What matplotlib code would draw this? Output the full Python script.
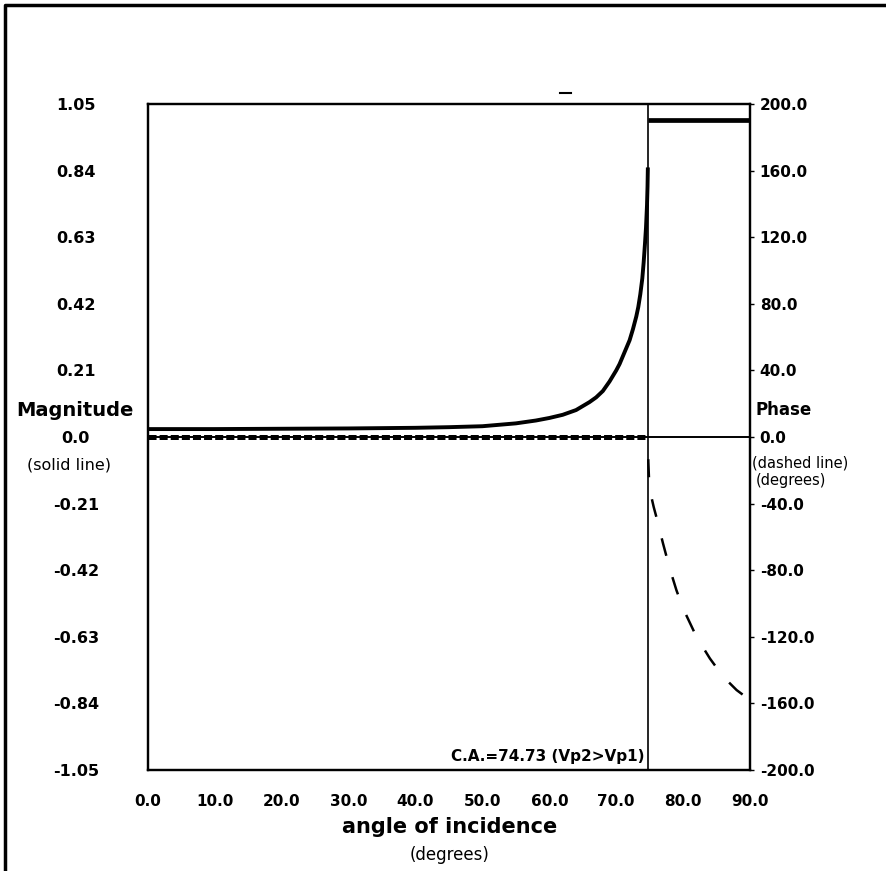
import matplotlib.pyplot as plt
from matplotlib.lines import Line2D

plt.rcParams['font.family'] = ['DejaVu Sans']
plt.rcParams['lines.scale_dashes'] = False

# magnitude (solid line) before critical angle
angle_pre = [0, 10, 20, 30, 40, 45, 50, 55, 58, 60, 62, 64, 66, 67, 68, 69, 70,
             70.5, 71, 71.5, 72, 72.5, 73, 73.3, 73.6, 73.9, 74.1, 74.3, 74.45,
             74.6, 74.68, 74.73]
mag_pre = [0.025, 0.025, 0.026, 0.027, 0.029, 0.031, 0.034, 0.043, 0.052, 0.06,
           0.07, 0.085, 0.11, 0.125, 0.145, 0.175, 0.21, 0.23, 0.255, 0.28,
           0.305, 0.34, 0.38, 0.41, 0.45, 0.50, 0.55, 0.61, 0.66, 0.73, 0.79, 0.85]
# magnitude after critical angle
angle_post_mag = [74.73, 90]
mag_post = [1.0, 1.0]

# phase (dashed line)
angle_phase_pre = [0, 74.73]
phase_pre = [0, 0]
angle_phase_post = [74.73, 74.8, 74.9, 75.2, 75.6, 76, 77, 78, 79, 80, 82, 84,
                    86, 88, 90]
phase_post = [0, -15, -25, -35, -42, -48, -64, -79, -92, -103, -120, -133,
              -144, -152, -158]

crit_angle = 74.73

mag_ticks = [1.05, 0.84, 0.63, 0.42, 0.21, 0.0, -0.21, -0.42, -0.63, -0.84, -1.05]
phase_ticks = [200, 160, 120, 80, 40, 0, -40, -80, -120, -160, -200]
x_ticks = [0, 10, 20, 30, 40, 50, 60, 70, 80, 90]

W, H = 886, 871
fig = plt.figure(figsize=(W / 100, H / 100), dpi=100)
ax = fig.add_axes([148 / W, 1 - 770 / H, 602 / W, 666 / H])
ax2 = ax.twinx()

ax.set_xlim(0, 90)
ax.set_ylim(-1.05, 1.05)
ax2.set_ylim(-200, 200)

# zero line and critical angle line
ax.axhline(0, color='black', lw=1.4)
ax.axvline(crit_angle, color='black', lw=1.2)

ax.plot(angle_pre, mag_pre, color='black', lw=2.8, solid_capstyle='butt',
        solid_joinstyle='round')
ax.plot(angle_post_mag, mag_post, color='black', lw=3.4, solid_capstyle='butt')

ax2.plot(angle_phase_pre, phase_pre, color='black', lw=3.6,
         linestyle=(0, (5.8, 2.2)), dash_capstyle='butt')
ax2.plot(angle_phase_post, phase_post, color='black', lw=1.8,
         linestyle=(13, (13, 16)), dash_capstyle='butt')

for s in ax.spines.values():
    s.set_linewidth(1.6)
for s in ax2.spines.values():
    s.set_linewidth(1.6)

ax.set_yticks(mag_ticks)
ax.set_yticklabels([f'{v:.2f}' if v != 0 else '0.0' for v in mag_ticks],
                   fontsize=11.5, fontweight='bold', ha='center')
ax.tick_params(axis='y', length=0, pad=52)
ax.set_xticks(x_ticks)
ax.set_xticklabels([f'{v:.1f}' for v in x_ticks], fontsize=11, fontweight='bold')
ax.tick_params(axis='x', length=0, pad=17)

ax2.set_yticks(phase_ticks)
ax2.set_yticklabels([f'{v:.1f}' for v in phase_ticks], fontsize=11,
                    fontweight='bold')
ax2.tick_params(axis='y', length=3, width=1, pad=4)

def px(x, y):
    return x / W, 1 - y / H

fig.text(*px(75, 410), 'Magnitude', fontsize=14, fontweight='bold',
         ha='center', va='center')
fig.text(*px(69, 465), '(solid line)', fontsize=11.5, ha='center', va='center')
fig.text(*px(784, 410), 'Phase', fontsize=12, fontweight='bold',
         ha='center', va='center')
fig.text(*px(752, 463), '(dashed line)', fontsize=10.5, ha='left', va='center')
fig.text(*px(756, 480), '(degrees)', fontsize=10.5, ha='left', va='center')
fig.text(*px(450, 827), 'angle of incidence', fontsize=15, fontweight='bold',
         ha='center', va='center')
fig.text(*px(450, 855), '(degrees)', fontsize=12, ha='center', va='center')
ax.text(crit_angle - 0.5, -1.03, 'C.A.=74.73 (Vp2>Vp1)', fontsize=11,
        fontweight='bold', ha='right', va='bottom')

# small mark above the plot and figure frame
fig.add_artist(Line2D([560 / W, 571 / W], [1 - 93 / H, 1 - 93 / H],
                      color='black', lw=1.5))
fig.add_artist(Line2D([5 / W, 5 / W, 1], [0, 1 - 5 / H, 1 - 5 / H],
                      color='black', lw=2.5))

fig.savefig('out.png', dpi=100)
